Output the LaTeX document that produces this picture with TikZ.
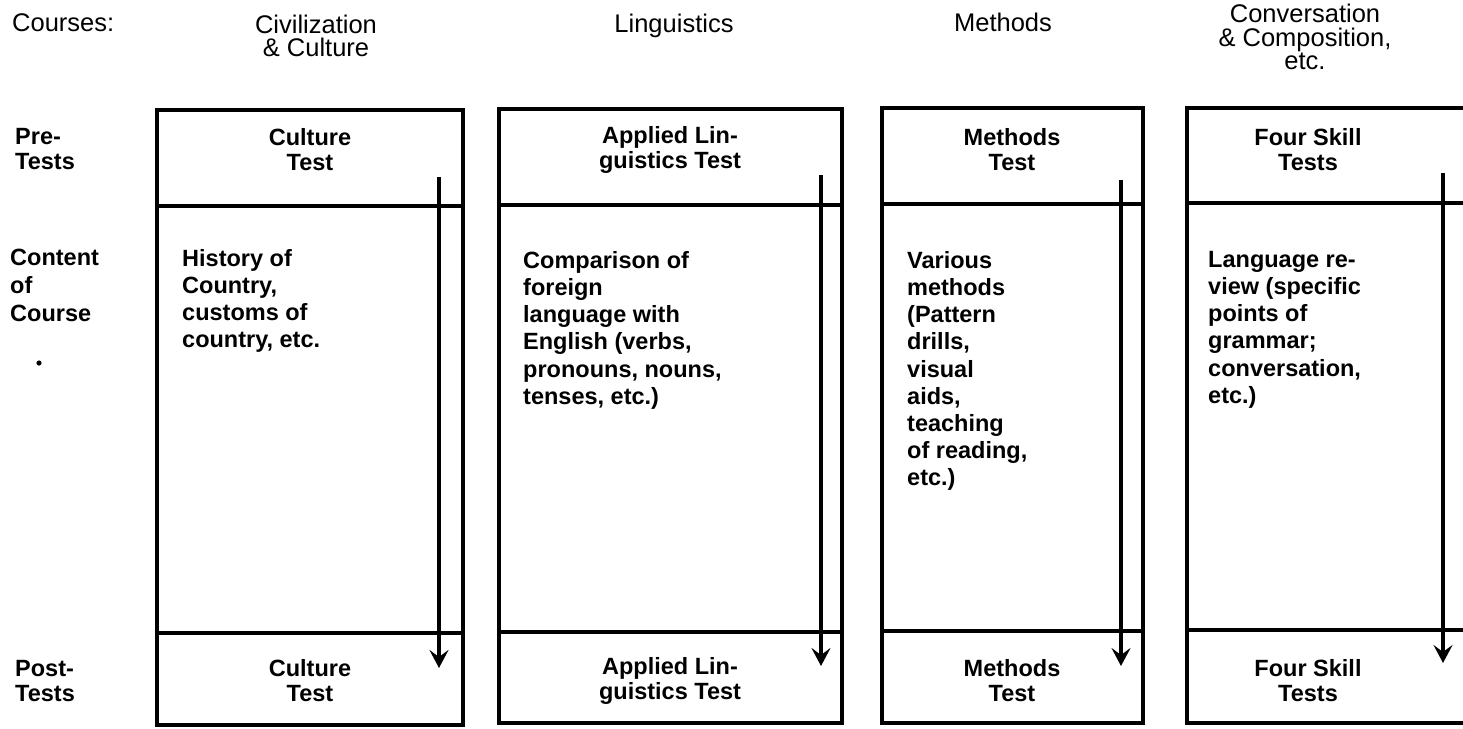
\documentclass[tikz,border=0pt]{standalone}
\usepackage{fontspec}
\setmainfont{Liberation Sans}
\usetikzlibrary{arrows.meta}
\tikzset{
  hdr/.style={font=\fontsize{25.5}{23.5}\selectfont, align=center, inner sep=0pt},
  ttl/.style={font=\bfseries\fontsize{23.5}{25}\selectfont, align=center, inner sep=0pt},
  bodytext/.style={font=\bfseries\fontsize{23.5}{27.2}\selectfont, align=left, inner sep=0pt, anchor=north west},
  rowlab/.style={font=\bfseries\fontsize{23.5}{25}\selectfont, align=left, inner sep=0pt},
  frameline/.style={line width=3.6pt},
  divline/.style={line width=3.2pt},
  arr/.style={line width=3.2pt, -{Stealth[length=18pt,width=19pt,inset=7pt]}},
}
\begin{document}
\begin{tikzpicture}[x=1pt,y=-1pt]
\useasboundingbox (0,0) rectangle (1463,728);

% headers
\node[hdr, anchor=west] (courses) at (12,23) {Courses:};
\node[hdr] (hciv) at (316,36) {Civilization\\\& Culture};
\node[hdr] (hling) at (674,26) {Linguistics};
\node[hdr] (hmeth) at (1003,22) {Methods};
\node[hdr] (hconv) at (1305,37) {Conversation\\\& Composition,\\etc.};

% row labels
\node[rowlab, anchor=west] (lpre) at (15,149) {Pre-\\Tests};
\node[rowlab, anchor=north west, font=\bfseries\fontsize{23.5}{28}\selectfont] (lcont) at (10,249) {Content\\of\\Course};
\fill (39,363) circle (2.6pt) coordinate (dot);
\node[rowlab, anchor=west] (lpost) at (15,681) {Post-\\Tests};

% box 1
\coordinate (b1tl) at (157,110); \coordinate (b1br) at (463,725);
\draw[frameline] (b1tl) rectangle (b1br);
\draw[divline] (157,206) -- (463,206);
\draw[divline] (157,633) -- (463,633);
\coordinate (a1s) at (439,177); \coordinate (a1e) at (439,668);
\draw[arr] (a1s) -- (a1e);
\node[ttl] (t1pre) at (310,150) {Culture\\Test};
\node[bodytext] (c1) at (182,249) {History of\\Country,\\customs of\\country, etc.};
\node[ttl] (t1post) at (310,681) {Culture\\Test};

% box 2
\coordinate (b2tl) at (499,109); \coordinate (b2br) at (842,723);
\draw[frameline] (b2tl) rectangle (b2br);
\draw[divline] (499,205) -- (842,205);
\draw[divline] (499,632) -- (842,632);
\coordinate (a2s) at (821,175); \coordinate (a2e) at (821,666);
\draw[arr] (a2s) -- (a2e);
\node[ttl] (t2pre) at (670,150) {Applied Lin-\\guistics Test};
\node[bodytext] (c2) at (523,251) {Comparison of\\foreign\\language with\\English (verbs,\\pronouns, nouns,\\tenses, etc.)};
\node[ttl] (t2post) at (670,681) {Applied Lin-\\guistics Test};

% box 3
\coordinate (b3tl) at (882,108); \coordinate (b3br) at (1143,723);
\draw[frameline] (b3tl) rectangle (b3br);
\draw[divline] (882,204) -- (1143,204);
\draw[divline] (882,631) -- (1143,631);
\coordinate (a3s) at (1121,180); \coordinate (a3e) at (1121,666);
\draw[arr] (a3s) -- (a3e);
\node[ttl] (t3pre) at (1012,150) {Methods\\Test};
\node[bodytext] (c3) at (907,251) {Various\\methods\\(Pattern\\drills,\\visual\\aids,\\teaching\\of reading,\\etc.)};
\node[ttl] (t3post) at (1012,681) {Methods\\Test};

% box 4 (right edge beyond the picture)
\coordinate (b4tl) at (1187,108); \coordinate (b4bl) at (1187,723);
\draw[frameline] (1475,108) -- (b4tl) -- (b4bl) -- (1475,723);
\draw[divline] (1187,203) -- (1475,203);
\draw[divline] (1187,630) -- (1475,630);
\coordinate (a4s) at (1443,173); \coordinate (a4e) at (1443,663);
\draw[arr] (a4s) -- (a4e);
\node[ttl] (t4pre) at (1308,150) {Four Skill\\Tests};
\node[bodytext] (c4) at (1208,251) {Language re-\\view (specific\\points of\\grammar;\\conversation,\\etc.)};
\node[ttl] (t4post) at (1308,681) {Four Skill\\Tests};
\end{tikzpicture}
\end{document}
